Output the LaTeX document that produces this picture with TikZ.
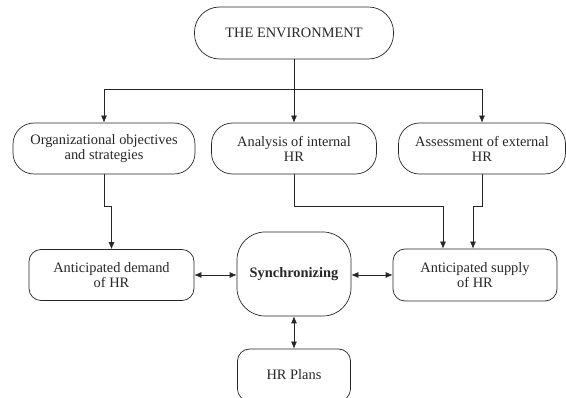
\documentclass[tikz,border=0pt]{standalone}
\usepackage{fontspec}
\setmainfont{Liberation Serif}
\usetikzlibrary{arrows.meta}
\tikzset{every path/.style={line width=0.7pt, color=black!85}}
\tikzset{box/.style={draw=black!85, align=center, inner sep=0pt, text=black!85,
    font=\fontsize{14.4}{15}\selectfont}}
\tikzset{flow/.style={-{Latex[length=7pt,width=6pt]}}}
\tikzset{both/.style={{Latex[length=7pt,width=6pt]}-{Latex[length=7pt,width=6pt]}}}

\begin{document}
\begin{tikzpicture}[x=1pt,y=-1pt]
\useasboundingbox (0,0) rectangle (566,398);
\node[box, rounded corners=25pt, minimum width=199pt, minimum height=52pt] (env) at (294,33) {THE ENVIRONMENT};
\node[box, rounded corners=21pt, minimum width=182pt, minimum height=51pt] (org) at (104,148.5) {Organizational objectives\\and strategies};
\node[box, rounded corners=21pt, minimum width=165pt, minimum height=51pt] (ana) at (294,148.5) {Analysis of internal\\HR};
\node[box, rounded corners=21pt, minimum width=167pt, minimum height=51pt] (ass) at (482,148.5) {Assessment of external\\HR};
\node[box, rounded corners=12pt, minimum width=165pt, minimum height=51pt] (dem) at (111.5,275) {Anticipated demand\\of HR};
\node[box, rounded corners=28pt, minimum width=114pt, minimum height=84pt, font=\fontsize{14.4}{15}\selectfont\bfseries] (sync) at (294,274) {Synchronizing};
\node[box, rounded corners=12pt, minimum width=164pt, minimum height=52pt] (sup) at (475,275) {Anticipated supply\\of HR};
\node[box, rounded corners=12pt, minimum width=113pt, minimum height=52pt] (plan) at (294,375) {HR Plans};
% from the environment
\coordinate (split) at (294,89);
\draw (env.south) -- (split);
\draw[flow] (split) -| (org.north);
\draw[flow] (split) -- (ana.north);
\draw[flow] (split) -| (ass.north);
% into demand and supply
\draw[flow] (org.south) -- ++(0,32) -| (dem.north);
\draw[flow] (ana.south) -- ++(0,32) -| ([xshift=-32pt]sup.north);
\draw[flow] (ass.south) -- ++(0,32) -| ([xshift=-2pt]sup.north);
% synchronizing
\draw[both] (dem.east) -- (dem.east -| sync.west);
\draw[both] (sync.east |- sup.west) -- (sup.west);
\draw[both] (sync.south) -- (plan.north);
\end{tikzpicture}
\end{document}
